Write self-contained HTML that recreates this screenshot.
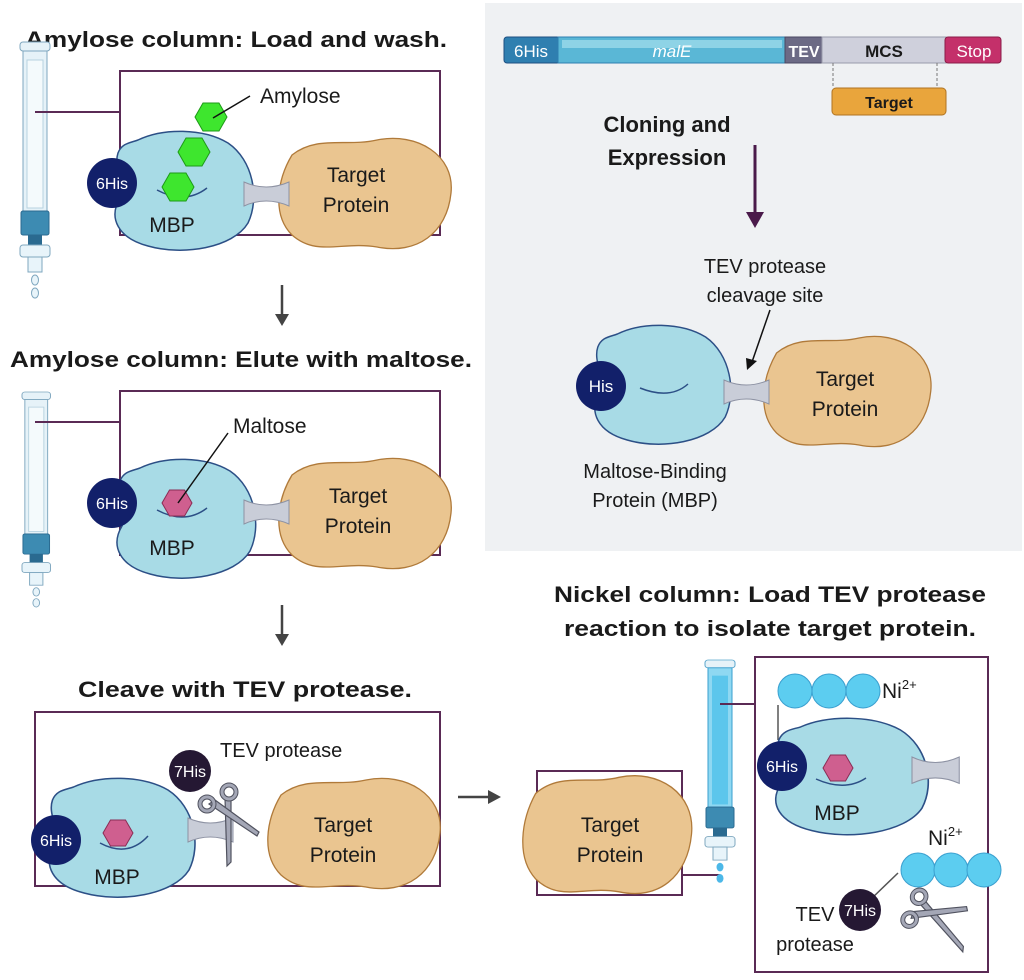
<!DOCTYPE html>
<html><head><meta charset="utf-8"><style>html,body{margin:0;padding:0;background:#fff}svg{display:block}text{font-family:"Liberation Sans",sans-serif;fill:#1a1a1a}</style></head>
<body>
<svg width="1024" height="980" viewBox="0 0 1024 980" xmlns="http://www.w3.org/2000/svg">
<defs>
<path id="mbp" d="M30,12 C55,0 95,0 120,15 C145,32 152,70 140,95 C125,120 75,128 40,118 C10,110 0,90 12,70 C18,55 5,40 10,25 C14,15 22,15 30,12 Z" fill="#a8dbe6" stroke="#2c4f86" stroke-width="1.5"/>
<path id="tgt" d="M15,20 C40,0 70,12 100,5 C140,-3 178,20 174,58 C170,98 140,120 100,112 C65,106 40,122 15,100 C-5,80 0,45 15,20 Z" fill="#eac590" stroke="#b07a3a" stroke-width="1.3"/>
<path id="lnk" d="M0,0 Q22,10 45,0 L45,24 Q22,14 0,24 Z" fill="#c9cdd8" stroke="#8d92a3" stroke-width="1"/>
<polygon id="hex" points="-16,0 -8,-14 8,-14 16,0 8,14 -8,14" fill="#3ee62e" stroke="#1e9a18" stroke-width="1"/>
<polygon id="phex" points="-15,0 -7.5,-13 7.5,-13 15,0 7.5,13 -7.5,13" fill="#cf5f8f" stroke="#8a2d55" stroke-width="1"/>
<g id="col">
<rect x="0" y="0" width="30" height="9" rx="3" fill="#e6f2f8" stroke="#7fa7bf"/>
<rect x="3" y="9" width="24" height="160" fill="#e6f2f8" stroke="#7fa7bf"/>
<rect x="7" y="18" width="16" height="148" fill="#f4fafc" stroke="#b7d2e0"/>
<rect x="1" y="169" width="28" height="24" rx="2" fill="#3d8bb2" stroke="#2a6a90"/>
<rect x="8" y="193" width="14" height="10" fill="#2a6a90"/>
<rect x="0" y="203" width="30" height="12" rx="3" fill="#e8f4fa" stroke="#7fa7bf"/>
<rect x="8" y="215" width="14" height="15" fill="#e8f4fa" stroke="#7fa7bf"/>
<ellipse cx="15" cy="238" rx="3.5" ry="5" fill="#e8f4fa" stroke="#7fa7bf"/>
<ellipse cx="15" cy="251" rx="3.5" ry="5" fill="#e8f4fa" stroke="#7fa7bf"/>
</g>
<g id="ncol">
<rect x="0" y="0" width="30" height="9" rx="3" fill="#e6f2f8" stroke="#5aa6cc"/>
<rect x="3" y="9" width="24" height="160" fill="#8fd8f2" stroke="#3a9fcf"/>
<rect x="7" y="18" width="16" height="148" fill="#5cc6ec"/>
<rect x="1" y="169" width="28" height="24" rx="2" fill="#3d8bb2" stroke="#2a6a90"/>
<rect x="8" y="193" width="14" height="10" fill="#2a6a90"/>
<rect x="0" y="203" width="30" height="12" rx="3" fill="#e8f4fa" stroke="#7fa7bf"/>
<rect x="8" y="215" width="14" height="15" fill="#e8f4fa" stroke="#7fa7bf"/>
<ellipse cx="15" cy="238" rx="3.5" ry="5" fill="#4cb8e8"/>
<ellipse cx="15" cy="251" rx="3.5" ry="5" fill="#4cb8e8"/>
</g>
<g id="sc">
<polygon points="22,8 28,8 28,72 24,76" fill="#a4a7b6" stroke="#50525f" stroke-width="1.2"/>
<polygon points="6,14 12,10 56,42 54,46" fill="#a4a7b6" stroke="#50525f" stroke-width="1.2"/>
<circle cx="4" cy="14" r="7" fill="none" stroke="#50525f" stroke-width="5"/>
<circle cx="4" cy="14" r="7" fill="none" stroke="#a4a7b6" stroke-width="3"/>
<circle cx="26" cy="2" r="7" fill="none" stroke="#50525f" stroke-width="5"/>
<circle cx="26" cy="2" r="7" fill="none" stroke="#a4a7b6" stroke-width="3"/>
</g>
</defs>

<!-- right grey panel -->
<rect x="485" y="3" width="537" height="548" fill="#eff1f3"/>

<!-- gene bar -->
<rect x="504" y="37" width="56" height="26" rx="3" fill="#2f7fb0" stroke="#1d4f82"/>
<rect x="558" y="37" width="228" height="26" fill="#5ab7d6" stroke="#2f7fb0"/>
<rect x="562" y="40" width="220" height="8" fill="#8ed3e6"/>
<rect x="785" y="37" width="38" height="26" fill="#6c6a85" stroke="#4a4862"/>
<rect x="822" y="37" width="124" height="26" fill="#cfd0dc" stroke="#9a9bab"/>
<rect x="945" y="37" width="56" height="26" rx="3" fill="#c4306a" stroke="#8a1d48"/>
<text x="531" y="57" text-anchor="middle" font-size="17" style="fill:#fff">6His</text>
<text x="672" y="57" text-anchor="middle" font-size="17" font-style="italic" style="fill:#fff">malE</text>
<text x="804" y="57" text-anchor="middle" font-size="16" font-weight="bold" style="fill:#fff">TEV</text>
<text x="884" y="57" text-anchor="middle" font-size="17" font-weight="bold">MCS</text>
<text x="974" y="57" text-anchor="middle" font-size="17" style="fill:#fff">Stop</text>
<line x1="833" y1="63" x2="833" y2="88" stroke="#777" stroke-dasharray="3,2"/>
<line x1="937" y1="63" x2="937" y2="88" stroke="#777" stroke-dasharray="3,2"/>
<rect x="832" y="88" width="114" height="27" rx="4" fill="#e9a53c" stroke="#b07422"/>
<text x="889" y="108" text-anchor="middle" font-size="16" font-weight="bold">Target</text>

<text x="667" y="132" text-anchor="middle" font-size="22" font-weight="bold">Cloning and</text>
<text x="667" y="165" text-anchor="middle" font-size="22" font-weight="bold">Expression</text>
<line x1="755" y1="145" x2="755" y2="215" stroke="#4a1a4a" stroke-width="3"/>
<polygon points="746,212 764,212 755,228" fill="#4a1a4a"/>

<text x="765" y="273" text-anchor="middle" font-size="20">TEV protease</text>
<text x="765" y="302" text-anchor="middle" font-size="20">cleavage site</text>
<line x1="770" y1="310" x2="752" y2="362" stroke="#111" stroke-width="1.5"/>
<polygon points="746,358 757,361 747,370" fill="#111"/>
<use href="#mbp" transform="translate(588,322) scale(0.98,1)"/>
<path d="M640,388 Q670,400 688,384" fill="none" stroke="#2c4f86" stroke-width="1.5"/>
<circle cx="601" cy="386" r="25" fill="#12206a"/>
<text x="601" y="392" text-anchor="middle" font-size="17" style="fill:#fff">His</text>
<use href="#tgt" transform="translate(762,333) scale(0.97,1)"/>
<use href="#lnk" transform="translate(724,380)"/>
<text x="845" y="386" text-anchor="middle" font-size="21">Target</text>
<text x="845" y="416" text-anchor="middle" font-size="21">Protein</text>
<text x="655" y="478" text-anchor="middle" font-size="20">Maltose-Binding</text>
<text x="655" y="507" text-anchor="middle" font-size="20">Protein (MBP)</text>

<!-- panel 1 -->
<text x="25" y="47" font-size="22" font-weight="bold" textLength="422" lengthAdjust="spacingAndGlyphs">Amylose column: Load and wash.</text>
<use href="#col" transform="translate(20,42)"/>
<rect x="120" y="71" width="320" height="164" fill="none" stroke="#5a2a55" stroke-width="2"/>
<line x1="35" y1="112" x2="120" y2="112" stroke="#5a2a55" stroke-width="2"/>
<use href="#mbp" transform="translate(108,128)"/>
<use href="#tgt" transform="translate(277,135)"/>
<use href="#lnk" transform="translate(244,182)"/>
<path d="M157,190 Q185,205 207,188" fill="none" stroke="#2c4f86" stroke-width="1.5"/>
<use href="#hex" transform="translate(178,187)"/>
<use href="#hex" transform="translate(194,152)"/>
<use href="#hex" transform="translate(211,117)"/>
<line x1="213" y1="118" x2="250" y2="96" stroke="#111" stroke-width="1.5"/>
<text x="260" y="103" font-size="21">Amylose</text>
<circle cx="112" cy="183" r="25" fill="#12206a"/>
<text x="112" y="189" text-anchor="middle" font-size="16" style="fill:#fff">6His</text>
<text x="172" y="232" text-anchor="middle" font-size="21">MBP</text>
<text x="356" y="182" text-anchor="middle" font-size="21">Target</text>
<text x="356" y="212" text-anchor="middle" font-size="21">Protein</text>

<line x1="282" y1="285" x2="282" y2="318" stroke="#444" stroke-width="2.5"/>
<polygon points="275,314 289,314 282,326" fill="#444"/>

<!-- panel 2 -->
<text x="10" y="367" font-size="22" font-weight="bold" textLength="462" lengthAdjust="spacingAndGlyphs">Amylose column: Elute with maltose.</text>
<use href="#col" transform="translate(22,392) scale(0.95,0.84)"/>
<rect x="120" y="391" width="320" height="164" fill="none" stroke="#5a2a55" stroke-width="2"/>
<line x1="35" y1="422" x2="120" y2="422" stroke="#5a2a55" stroke-width="2"/>
<use href="#mbp" transform="translate(110,456)"/>
<use href="#tgt" transform="translate(277,455)"/>
<use href="#lnk" transform="translate(244,500)"/>
<path d="M157,510 Q185,525 207,508" fill="none" stroke="#2c4f86" stroke-width="1.5"/>
<use href="#phex" transform="translate(177,503)"/>
<line x1="178" y1="503" x2="228" y2="433" stroke="#111" stroke-width="1.5"/>
<text x="233" y="433" font-size="21">Maltose</text>
<circle cx="112" cy="503" r="25" fill="#12206a"/>
<text x="112" y="509" text-anchor="middle" font-size="16" style="fill:#fff">6His</text>
<text x="172" y="555" text-anchor="middle" font-size="21">MBP</text>
<text x="358" y="503" text-anchor="middle" font-size="21">Target</text>
<text x="358" y="533" text-anchor="middle" font-size="21">Protein</text>

<line x1="282" y1="605" x2="282" y2="638" stroke="#444" stroke-width="2.5"/>
<polygon points="275,634 289,634 282,646" fill="#444"/>

<!-- panel 3 -->
<text x="245" y="697" text-anchor="middle" font-size="22" font-weight="bold" textLength="334" lengthAdjust="spacingAndGlyphs">Cleave with TEV protease.</text>
<rect x="35" y="712" width="405" height="174" fill="none" stroke="#5a2a55" stroke-width="2"/>
<use href="#mbp" transform="translate(42,775) scale(1.05,1)"/>
<use href="#tgt" transform="translate(266,775)"/>
<use href="#lnk" transform="translate(188,818)"/>
<path d="M100,843 Q128,858 148,836" fill="none" stroke="#2c4f86" stroke-width="1.5"/>
<use href="#phex" transform="translate(118,833)"/>
<circle cx="56" cy="840" r="25" fill="#12206a"/>
<text x="56" y="846" text-anchor="middle" font-size="16" style="fill:#fff">6His</text>
<text x="117" y="884" text-anchor="middle" font-size="21">MBP</text>
<use href="#sc" transform="translate(203,790)"/>
<circle cx="190" cy="771" r="21" fill="#251833"/>
<text x="190" y="777" text-anchor="middle" font-size="16" style="fill:#fff">7His</text>
<text x="220" y="757" font-size="20">TEV protease</text>
<text x="343" y="832" text-anchor="middle" font-size="21">Target</text>
<text x="343" y="862" text-anchor="middle" font-size="21">Protein</text>

<line x1="458" y1="797" x2="492" y2="797" stroke="#444" stroke-width="2.5"/>
<polygon points="488,790 488,804 501,797" fill="#444"/>

<!-- panel 4 -->
<text x="770" y="602" text-anchor="middle" font-size="22" font-weight="bold" textLength="432" lengthAdjust="spacingAndGlyphs">Nickel column: Load TEV protease</text>
<text x="770" y="636" text-anchor="middle" font-size="22" font-weight="bold" textLength="412" lengthAdjust="spacingAndGlyphs">reaction to isolate target protein.</text>
<rect x="537" y="771" width="145" height="124" fill="none" stroke="#5a2a55" stroke-width="2"/>
<use href="#tgt" transform="translate(521,772) scale(0.98,1.07)"/>
<text x="610" y="832" text-anchor="middle" font-size="21">Target</text>
<text x="610" y="862" text-anchor="middle" font-size="21">Protein</text>
<line x1="682" y1="875" x2="720" y2="875" stroke="#5a2a55" stroke-width="2"/>
<use href="#ncol" transform="translate(705,660) scale(1,0.87)"/>
<rect x="755" y="657" width="233" height="315" fill="none" stroke="#5a2a55" stroke-width="2"/>
<line x1="720" y1="704" x2="755" y2="704" stroke="#5a2a55" stroke-width="2"/>
<line x1="778" y1="705" x2="778" y2="740" stroke="#555" stroke-width="1.5"/>
<circle cx="795" cy="691" r="17" fill="#5ccdf0" stroke="#3a9fcf"/>
<circle cx="829" cy="691" r="17" fill="#5ccdf0" stroke="#3a9fcf"/>
<circle cx="863" cy="691" r="17" fill="#5ccdf0" stroke="#3a9fcf"/>
<text x="882" y="698" font-size="21">Ni<tspan font-size="13" dy="-9">2+</tspan></text>
<use href="#mbp" transform="translate(768,715) scale(1.1,0.98)"/>
<use href="#lnk" transform="translate(912,757) scale(1.05,1.1)"/>
<path d="M816,779 Q845,792 866,778" fill="none" stroke="#2c4f86" stroke-width="1.5"/>
<use href="#phex" transform="translate(838,768)"/>
<circle cx="782" cy="766" r="25" fill="#12206a"/>
<text x="782" y="772" text-anchor="middle" font-size="16" style="fill:#fff">6His</text>
<text x="837" y="820" text-anchor="middle" font-size="21">MBP</text>
<text x="928" y="845" font-size="21">Ni<tspan font-size="13" dy="-9">2+</tspan></text>
<line x1="898" y1="873" x2="870" y2="900" stroke="#555" stroke-width="1.5"/>
<circle cx="918" cy="870" r="17" fill="#5ccdf0" stroke="#3a9fcf"/>
<circle cx="951" cy="870" r="17" fill="#5ccdf0" stroke="#3a9fcf"/>
<circle cx="984" cy="870" r="17" fill="#5ccdf0" stroke="#3a9fcf"/>
<use href="#sc" transform="translate(898,912) rotate(-40) scale(1,0.95)"/>
<circle cx="860" cy="910" r="21" fill="#251833"/>
<text x="860" y="916" text-anchor="middle" font-size="16" style="fill:#fff">7His</text>
<text x="815" y="921" text-anchor="middle" font-size="20">TEV</text>
<text x="815" y="951" text-anchor="middle" font-size="20">protease</text>
</svg>
</body></html>
